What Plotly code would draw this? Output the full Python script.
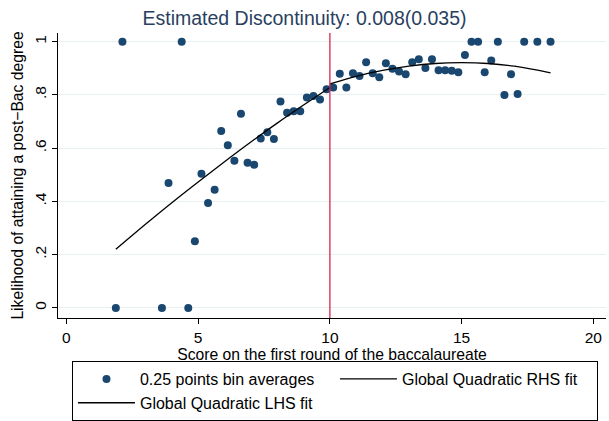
import plotly.graph_objects as go

# Bin averages (0.25-point bins)
bin_x = [1.875, 2.125, 3.625, 3.875, 4.375, 4.625, 4.875, 5.125, 5.375, 5.625,
         5.875, 6.125, 6.375, 6.625, 6.875, 7.125, 7.375, 7.625, 7.875, 8.125,
         8.375, 8.625, 8.875, 9.125, 9.375, 9.625, 9.875, 10.125, 10.375, 10.625,
         10.875, 11.125, 11.375, 11.625, 11.875, 12.125, 12.375, 12.625, 12.875, 13.125,
         13.375, 13.625, 13.875, 14.125, 14.375, 14.625, 14.875, 15.125, 15.375, 15.625,
         15.875, 16.125, 16.375, 16.625, 16.875, 17.125, 17.375, 17.875, 18.375]
bin_y = [0.0, 1.0, 0.0, 0.469, 1.0, 0.0, 0.25, 0.504, 0.394, 0.444,
         0.664, 0.611, 0.553, 0.729, 0.545, 0.538, 0.636, 0.660, 0.634, 0.775,
         0.733, 0.739, 0.739, 0.790, 0.796, 0.783, 0.821, 0.828, 0.879, 0.828,
         0.881, 0.871, 0.923, 0.881, 0.866, 0.919, 0.898, 0.888, 0.878, 0.923,
         0.934, 0.901, 0.934, 0.893, 0.893, 0.891, 0.885, 0.950, 1.0, 1.0,
         0.885, 0.929, 1.0, 0.800, 0.878, 0.803, 1.0, 1.0, 1.0]

# Fitted curves
lhs_x = [1.875, 3, 4, 5, 6, 7, 8, 9, 10]
lhs_y = [0.220, 0.314, 0.395, 0.473, 0.549, 0.623, 0.694, 0.762, 0.828]
rhs_x = [10, 11, 12, 13, 14, 15, 16, 17, 18.375]
rhs_y = [0.841, 0.870, 0.892, 0.908, 0.918, 0.921, 0.918, 0.908, 0.883]

cutoff = 10
x_ticks = [0, 5, 10, 15, 20]
y_ticks = [0, 0.2, 0.4, 0.6, 0.8, 1.0]
y_ticklabels = ["0", ".2", ".4", ".6", ".8", "1"]

FONT = "Liberation Sans, Arial, sans-serif"
NAVY = "#1a476f"

fig = go.Figure()
fig.add_trace(go.Scatter(x=bin_x, y=bin_y, mode="markers",
                         marker=dict(color=NAVY, size=8, line=dict(width=0)),
                         name="0.25 points bin averages"))
fig.add_trace(go.Scatter(x=rhs_x, y=rhs_y, mode="lines", line_shape="spline",
                         line=dict(color="black", width=1.3),
                         name="Global Quadratic RHS fit"))
fig.add_trace(go.Scatter(x=lhs_x, y=lhs_y, mode="lines", line_shape="spline",
                         line=dict(color="black", width=1.3),
                         name="Global Quadratic LHS fit"))

fig.add_vline(x=cutoff, line=dict(color="#d9264e", width=1.3))

fig.update_layout(
    width=609, height=421,
    margin=dict(l=58, r=3, t=33, b=102.5, autoexpand=False),
    paper_bgcolor="white", plot_bgcolor="white",
    font=dict(family=FONT, size=15.5, color="black"),
    title=dict(text="Estimated Discontinuity: 0.008(0.035)",
               x=0.5, xref="container", xanchor="center",
               y=0.958, yref="container", yanchor="middle",
               font=dict(size=19.5, color="#2a3f5f", family=FONT)),
    xaxis=dict(range=[-0.32, 20.48], tickvals=x_ticks, showgrid=False,
               zeroline=False, showline=True, linecolor="black", linewidth=1,
               ticks="outside", ticklen=5, tickcolor="black",
               tickfont=dict(size=15.5),
               title=dict(text="Score on the first round of the baccalaureate",
                          standoff=2, font=dict(size=15.7))),
    yaxis=dict(range=[-0.038, 1.0325], tickvals=y_ticks, ticktext=y_ticklabels,
               tickangle=-90, showgrid=True, gridcolor="#e9f0f1", gridwidth=1,
               zeroline=False, showline=True, linecolor="black", linewidth=1,
               ticks="outside", ticklen=5, tickcolor="black",
               tickfont=dict(size=15.5),
               title=dict(text="Likelihood of attaining a post\u2212Bac degree",
                          standoff=4, font=dict(size=15.7))),
    legend=dict(orientation="h", x=0.0255, xanchor="left", y=-0.151, yanchor="top",
                bordercolor="black", borderwidth=1, bgcolor="white",
                entrywidth=190, entrywidthmode="pixels", itemwidth=57,
                traceorder="normal", font=dict(size=16)),
    showlegend=True,
)

fig.write_html("out.html")
